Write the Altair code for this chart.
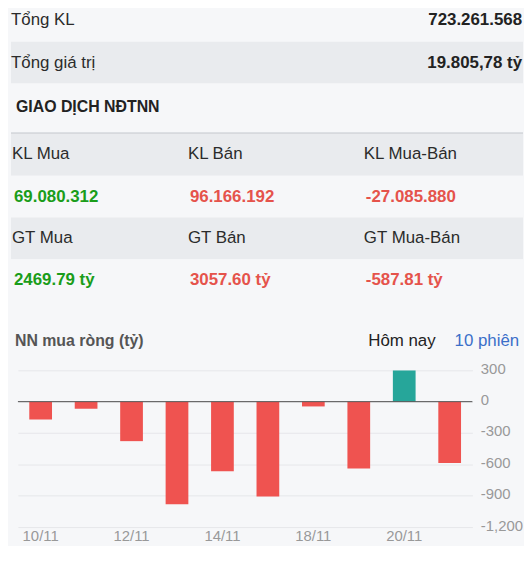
import altair as alt
import pandas as pd

# ---------------- data ----------------
total_labels = ["Tổng KL", "Tổng giá trị"]
total_values = ["723.261.568", "19.805,78 tỷ"]
section_title = "GIAO DỊCH NĐTNN"
kl_labels = ["KL Mua", "KL Bán", "KL Mua-Bán"]
kl_values = ["69.080.312", "96.166.192", "-27.085.880"]
gt_labels = ["GT Mua", "GT Bán", "GT Mua-Bán"]
gt_values = ["2469.79 tỷ", "3057.60 tỷ", "-587.81 tỷ"]
value_sides = ["Mua", "Bán", "Ròng"]
chart_title = "NN mua ròng (tỷ)"
tab_labels = ["Hôm nay", "10 phiên"]
dates = ["10/11", "11/11", "12/11", "13/11", "14/11", "17/11", "18/11", "19/11", "20/11", "21/11"]
net_buy = [-170, -68, -378, -982, -665, -908, -46, -640, 298, -587.81]
y_ticks = [300, 0, -300, -600, -900, -1200]
x_label_dates = ["10/11", "12/11", "14/11", "18/11", "20/11"]

# ---------------- style ----------------
W = 516
FONT = "Liberation Sans"
LIGHT = "#f6f7f9"
GRAY = "#e9ebee"
TXT = "#2b2b2b"
GREEN = "#1a9d1a"
RED = "#e5534b"
BAR_RED = "#ef5350"
BAR_GREEN = "#26a69a"
PLOT_H = 158


def view(fill):
    return alt.ViewBackground(fill=fill, stroke=None)


def two_col(label, value, h, fill, dy=0):
    df = pd.DataFrame({"label": [label], "value": [value]})
    base = alt.Chart(df)
    lab = base.mark_text(align="left", baseline="middle", font=FONT, fontSize=17,
                         color=TXT, dy=dy).encode(
        x=alt.value(0), y=alt.value(h / 2), text="label:N")
    val = base.mark_text(align="right", baseline="middle", font=FONT, fontSize=17,
                         fontWeight="bold", color="#222", dy=dy).encode(
        x=alt.value(W - 1), y=alt.value(h / 2), text="value:N")
    return alt.layer(lab, val).properties(width=W, height=h, view=view(fill))


def three_col(texts, h, fill, bold=False, colored=False, top_line=False):
    df = pd.DataFrame({"col": list(range(len(texts))), "text": texts, "side": value_sides})
    off = 2 if bold else 0
    enc = dict(
        x=alt.X("col:Q", scale=alt.Scale(domain=[0, 1], range=[1 + off, 178.3 + off]), axis=None),
        y=alt.value(h / 2),
        text="text:N",
    )
    if colored:
        enc["color"] = alt.Color("side:N", scale=alt.Scale(domain=value_sides, range=[GREEN, RED, RED]), legend=None)
    mark = alt.Chart(df).mark_text(align="left", baseline="middle", font=FONT, fontSize=17,
                                   fontWeight="bold" if bold else "normal", color=TXT)
    layers = [mark.encode(**enc)]
    if top_line:
        layers.append(alt.Chart(df).mark_rule(color="#d6d9de", strokeWidth=1).encode(
            x=alt.value(0), x2=alt.value(W), y=alt.value(0)))
    return alt.layer(*layers).properties(width=W, height=h, view=view(fill))


p1 = two_col(total_labels[0], total_values[0], 32, LIGHT, dy=-6)
p2 = two_col(total_labels[1], total_values[1], 42, GRAY)

p3 = alt.Chart(pd.DataFrame({"t": [section_title]})).mark_text(
    align="left", baseline="middle", font=FONT, fontSize=16, fontWeight="bold", color="#222"
).encode(x=alt.value(5), y=alt.value(24), text="t:N").properties(width=W, height=50, view=view(LIGHT))

p4 = three_col(kl_labels, 43, GRAY, top_line=True)
p5 = three_col(kl_values, 42, LIGHT, bold=True, colored=True)
p6 = three_col(gt_labels, 42, GRAY)
p7 = three_col(gt_values, 42, LIGHT, bold=True, colored=True)

hdr_df = pd.DataFrame({"t": [chart_title]})
tabs_df = pd.DataFrame({"t": tab_labels, "i": [0, 1]})
title_t = alt.Chart(hdr_df).mark_text(align="left", baseline="middle", font=FONT, fontSize=16,
                                      fontWeight="bold", color="#555").encode(
    x=alt.value(4), y=alt.value(41), text="t:N")
tab1 = alt.Chart(tabs_df).transform_filter("datum.i == 0").mark_text(
    align="left", baseline="middle", font=FONT, fontSize=17, color="#222").encode(
    x=alt.value(360), y=alt.value(41), text="t:N")
tab2 = alt.Chart(tabs_df).transform_filter("datum.i == 1").mark_text(
    align="left", baseline="middle", font=FONT, fontSize=17, color="#3b6fc9").encode(
    x=alt.value(447), y=alt.value(41), text="t:N")
p8 = alt.layer(title_t, tab1, tab2).properties(width=W, height=70, view=view(LIGHT))

# ---------------- bar chart ----------------
bars_df = pd.DataFrame({"date": dates, "value": net_buy})
bars_df["sign"] = ["Mua ròng" if v >= 0 else "Bán ròng" for v in net_buy]

x_enc = alt.X("date:O", sort=dates, title=None,
              scale=alt.Scale(paddingInner=0.5, paddingOuter=0.25),
              axis=alt.Axis(values=x_label_dates, labelAngle=0, domain=False, ticks=False, grid=False,
                            labelFont=FONT, labelFontSize=15, labelColor="#999", labelPadding=2))
y_axis = alt.Axis(orient="right", values=y_ticks,
                  labelExpr="replace(format(datum.value, ','), '\u2212', '-')",
                  domain=False, ticks=False, grid=True, gridColor="#e6e7ea",
                  labelFont=FONT, labelFontSize=15, labelColor="#999",
                  labelAlign="left", labelPadding=8, labelOffset=-2,
                  labelOverlap=False, labelBound=False)
y_scale = alt.Scale(domain=[-1200, 300], nice=False, zero=False)

bars = alt.Chart(bars_df).mark_bar().encode(
    x=x_enc,
    y=alt.Y("value:Q", title=None, scale=y_scale, axis=y_axis),
    color=alt.Color("sign:N", scale=alt.Scale(domain=["Mua ròng", "Bán ròng"], range=[BAR_GREEN, BAR_RED]), legend=None),
)
zero = alt.Chart(pd.DataFrame({"value": [0]})).mark_rule(color="#555", strokeWidth=1).encode(
    y=alt.Y("value:Q", title=None, scale=y_scale, axis=y_axis))
bar_layer = alt.layer(bars, zero).properties(width=458, height=PLOT_H)

spacer = alt.Chart(pd.DataFrame({"a": [0]})).mark_point(opacity=0).encode(
    x=alt.value(0), y=alt.value(0)).properties(width=7, height=PLOT_H)

bottom = alt.hconcat(spacer, bar_layer, spacing=0, bounds="flush")

chart = alt.vconcat(p1, p2, p3, p4, p5, p6, p7, p8, bottom, spacing=0, bounds="flush").properties(
    padding=0
).resolve_scale(color="independent", x="independent").configure(
    background=LIGHT, font=FONT).configure_view(stroke=None)

chart.save("out.html", embed_options={"renderer": "svg", "actions": False})
